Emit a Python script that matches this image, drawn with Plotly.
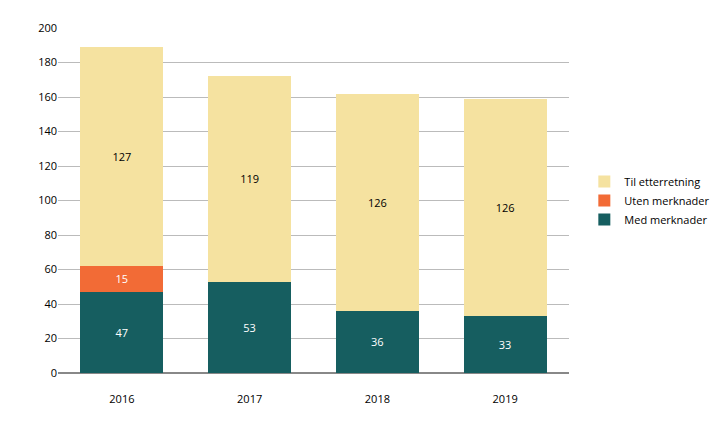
import plotly.graph_objects as go

years = ["2016", "2017", "2018", "2019"]
med_merknader = [47, 53, 36, 33]
uten_merknader = [15, 0, 0, 0]
til_etterretning = [127, 119, 126, 126]
y_ticks = list(range(0, 201, 20))


def labels(values):
    return [str(v) if v else "" for v in values]


fig = go.Figure()
fig.add_bar(x=years, y=med_merknader, name="Med merknader", marker_color="#165e60",
            text=labels(med_merknader), textfont=dict(color="white"), legendgroup="a")
fig.add_bar(x=years, y=uten_merknader, name="Uten merknader", marker_color="#f26b36",
            text=labels(uten_merknader), textfont=dict(color="white"), legendgroup="b")
fig.add_bar(x=years, y=til_etterretning, name="Til etterretning", marker_color="#f5e2a0",
            text=labels(til_etterretning), textfont=dict(color="black"), legendgroup="c")

fig.update_traces(textposition="inside", insidetextanchor="middle",
                  marker_line_width=0, textangle=0)

fig.update_layout(
    barmode="stack",
    bargap=0.35,
    width=719,
    height=425,
    margin=dict(l=50, r=149, t=18, b=60),
    plot_bgcolor="white",
    paper_bgcolor="white",
    font=dict(family="Open Sans", size=11, color="black"),
    uniformtext=dict(minsize=11, mode="show"),
    legend=dict(traceorder="reversed", x=1.03, y=0.5, yanchor="middle",
                tracegroupgap=14, itemsizing="constant", font=dict(size=11)),
    xaxis=dict(showline=False, ticks="outside", ticklen=16, tickcolor="rgba(0,0,0,0)"),
    yaxis=dict(range=[0, 200], tickvals=y_ticks, showgrid=True, gridcolor="#bbbbbb",
               gridwidth=1, zeroline=True, zerolinecolor="#888888", ticks=""),
)

fig.write_html("out.html")
